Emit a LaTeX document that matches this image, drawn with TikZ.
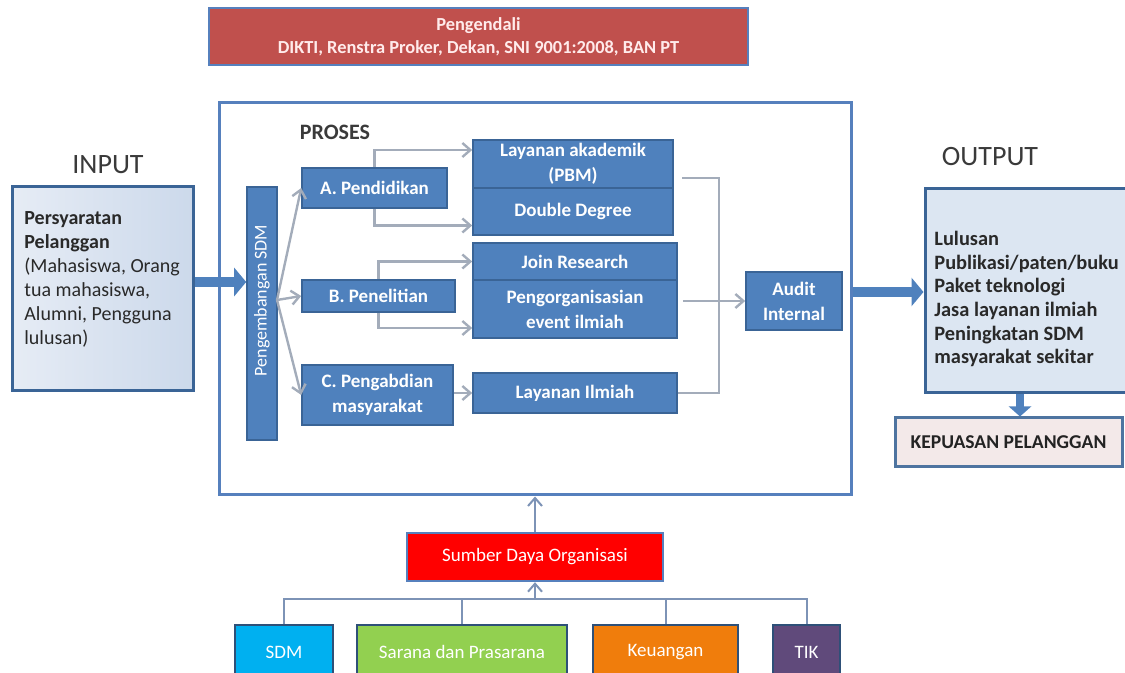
\documentclass[tikz,border=0pt]{standalone}
\usepackage{fontspec}
\setmainfont{Carlito}
\usepackage{graphicx}
\usetikzlibrary{arrows.meta,calc}

\definecolor{kotak}{HTML}{4F81BD}
\definecolor{tepi}{HTML}{3A6496}
\definecolor{abu}{HTML}{A3ACBA}
\definecolor{abubiru}{HTML}{7D93B6}
\definecolor{bingkai}{HTML}{5680BD}
\definecolor{teks}{HTML}{3A3A3A}
\definecolor{merahtua}{HTML}{C0504D}
\definecolor{mudaA}{HTML}{E6ECF5}
\definecolor{mudaB}{HTML}{CCD9EB}
\definecolor{mudaC}{HTML}{DCE6F2}
\definecolor{puas}{HTML}{F3E9E9}

\begin{document}
\begin{tikzpicture}[x=0.5pt,y=-0.5pt,
  blok/.style={draw=tepi,line width=0.8pt,fill=kotak,text=white,align=center,inner sep=1pt,
    font=\fontsize{9.5}{12.5}\selectfont\bfseries},
  garis/.style={draw=abu,line width=1.2pt},
  panah/.style={garis,-{Straight Barb[length=4pt,width=7pt]}},
  garisb/.style={draw=abubiru,line width=1pt},
  panahb/.style={garisb,-{Straight Barb[length=4pt,width=7pt]}},
  tebal/.style={draw=kotak,line width=5pt,-{Triangle[length=6pt,width=14pt]}},
  judul/.style={text=teks,font=\fontsize{14}{16}\selectfont},
  sumberdaya/.style={draw=tepi!80!black,line width=1.2pt,text=white,minimum height=27pt,
    font=\fontsize{9.5}{12}\selectfont}]
\clip (0,0) rectangle (1125,673);

% pengendali
\node[blok,fill=merahtua,draw=bingkai,line width=1.2pt,text=red!8,minimum width=269.5pt,minimum height=28.5pt,
  font=\fontsize{9.2}{11.5}\selectfont\bfseries] (pengendali) at (478.5,36.5)
  {Pengendali\\DIKTI, Renstra Proker, Dekan, SNI 9001:2008, BAN PT};

% bingkai proses
\node[draw=bingkai,line width=1.5pt,minimum width=316pt,minimum height=196pt,inner sep=0] (proses) at (535,299) {};
\node[text=teks,font=\fontsize{11}{13}\selectfont\bfseries] (proseslbl) at (335,132) {PROSES};

% input
\node[judul] (inputlbl) at (108,165) {INPUT};
\node[draw=tepi,line width=1.5pt,left color=mudaA,right color=mudaB,minimum width=90.5pt,minimum height=102pt] (input) at (102.5,289) {};
\node[anchor=north west,inner sep=0,align=left,text=teks!70!black,font=\fontsize{10}{12}\selectfont] (inputtxt) at (24,211)
  {\textbf{Persyaratan}\\\textbf{Pelanggan}\\(Mahasiswa, Orang\\tua mahasiswa,\\Alumni, Pengguna\\lulusan)};

% output
\node[judul] (outputlbl) at (990,157) {OUTPUT};
\node[draw=tepi,line width=1.5pt,fill=mudaC,minimum width=105pt,minimum height=102pt] (output) at (1030,291) {};
\node[anchor=north west,inner sep=0,align=left,text=teks!70!black,font=\fontsize{10.2}{11.8}\selectfont\bfseries] (outputtxt) at (934,231)
  {Lulusan\\Publikasi/paten/buku\\Paket teknologi\\Jasa layanan ilmiah\\Peningkatan SDM\\masyarakat sekitar};
\node[draw=tepi!90,line width=1.5pt,fill=puas,text=teks!60!black,minimum width=113.5pt,minimum height=24.5pt,
  font=\fontsize{9.8}{11}\selectfont\bfseries] (kepuasan) at (1008.5,442.5) {KEPUASAN PELANGGAN};

% kotak proses
\node[blok,font=\fontsize{9}{11}\selectfont,minimum width=15pt,minimum height=126.5pt,inner sep=0] (sdmv) at (262,313.5)
  {\rotatebox{90}{\hspace{13pt}Pengembangan SDM}};
\node[blok,minimum width=72.5pt,minimum height=20pt] (pend) at (374.5,188) {A. Pendidikan};
\node[blok,minimum width=76.5pt,minimum height=16pt] (pen) at (378.5,296) {B. Penelitian};
\node[blok,minimum width=75.5pt,minimum height=30pt] (abdi) at (377.5,395) {C. Pengabdian\\masyarakat};
\node[blok,minimum width=100pt,minimum height=24pt] (pbm) at (573,164) {Layanan akademik\\(PBM)};
\node[blok,minimum width=100pt,minimum height=23.5pt] (dd) at (573,211.5) {Double Degree};
\node[blok,minimum width=102pt,minimum height=18.5pt] (join) at (575,261.5) {Join Research};
\node[blok,minimum width=102pt,minimum height=29pt] (org) at (575,309) {Pengorganisasian\\event ilmiah};
\node[blok,minimum width=102pt,minimum height=20pt] (lil) at (575,393) {Layanan Ilmiah};
\node[blok,minimum width=48pt,minimum height=29pt] (audit) at (794,301) {Audit\\Internal};

% sumber daya
\node[sumberdaya,fill=red,draw=bingkai,minimum width=128pt,minimum height=24pt] (sumber) at (535,557) {Sumber Daya Organisasi};
\foreach \n/\x/\w/\c/\t in {sdmb/284/49/00B0F0/SDM,sarana/462/105/92D050/Sarana dan Prasarana,
    keu/665.5/72.5/F07D0C/Keuangan,tik/806.5/33.5/604A7B/TIK}{
  \definecolor{isi}{HTML}{\c}
  \node[sumberdaya,fill=isi,minimum width=\w pt] (\n) at (\x,652) {\t};
}

% panah tebal
\draw[tebal] (input.east |- 0,282) -- (sdmv.west |- 0,282);
\draw[tebal] (proses.east |- 0,292) -- (output.west |- 0,292);
\draw[tebal,line width=4pt,-{Triangle[length=5pt,width=11pt]}] (output.south -| 1020,0) -- (kepuasan.north -| 1020,0);

% penghubung proses
\coordinate (sebar) at (277,300);
\foreach \n in {pend,pen,abdi}{\draw[panah] (sebar) -- (\n.west);}
\draw[panah] (pend.north) |- ([yshift=7pt]pbm.west);
\draw[panah] (pend.south) |- ([yshift=-7pt]dd.west);
\draw[panah] (pen.north) |- (join.west);
\draw[panah] (pen.south) |- ([yshift=-9.5pt]org.west);
\draw[panah] (abdi.east |- lil.west) -- (lil.west);
\coordinate (k1) at (682,178);
\coordinate (k2) at (719,393);
\draw[garis] (k1) -| (k2) -- (lil.east);
\draw[panah] ([xshift=2.5pt]org.east |- audit.west) -- (audit.west);

% penghubung sumber daya
\coordinate (bus) at (535,599);
\draw[garisb] (sdmb.north) |- (bus) -| (tik.north);
\foreach \n in {sarana,keu}{\draw[garisb] (\n.north) -- (\n.north |- bus);}
\draw[panahb] (bus) -- (sumber.south);
\draw[panahb] (sumber.north) -- (proses.south);
\end{tikzpicture}
\end{document}
